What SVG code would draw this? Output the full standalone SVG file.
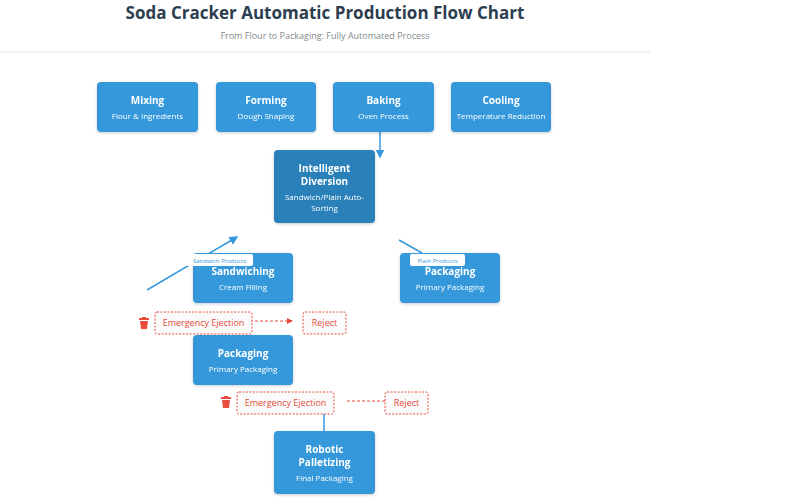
<svg xmlns="http://www.w3.org/2000/svg" width="800" height="500" viewBox="0 0 800 500">
<defs>
<style>
.n rect{fill:#3498db;rx:4}
.d rect{fill:#2980b9}
.t{font-family:"Open Sans","Liberation Sans",sans-serif;fill:#fff;text-anchor:middle}
.h{font-size:10px;font-weight:bold}
.s{font-size:8px}
.c{stroke:#3498db;stroke-width:1.5;fill:none}
.r{stroke:#e74c3c;stroke-width:1;stroke-dasharray:3,2;fill:none}
.eb{fill:#fafafa;stroke:#e74c3c;stroke-dasharray:2,1.5}
.et{font-family:"Open Sans","Liberation Sans",sans-serif;font-size:9px;fill:#e74c3c;text-anchor:middle}
.lb{fill:#fff}
.lt{font-family:"Open Sans","Liberation Sans",sans-serif;font-size:6px;fill:#3498db;text-anchor:middle}
</style>
<marker id="a" markerWidth="6" markerHeight="6" refX="5" refY="3" orient="auto"><path d="M0,0L6,3L0,6z" fill="#3498db"/></marker>
<marker id="ar" markerWidth="6" markerHeight="6" refX="5" refY="3" orient="auto"><path d="M0,0L6,3L0,6z" fill="#e74c3c"/></marker>
<filter id="sh"><feDropShadow dx="0" dy="1" stdDeviation="1.5" flood-opacity="0.2"/></filter>
</defs>
<rect width="800" height="500" fill="#fff"/>
<text x="325" y="19" font-family="'Open Sans','Liberation Sans',sans-serif" font-size="17" font-weight="bold" fill="#2c3e50" text-anchor="middle">Soda Cracker Automatic Production Flow Chart</text>
<text x="325" y="39" font-family="'Open Sans','Liberation Sans',sans-serif" font-size="9" fill="#7f8c8d" text-anchor="middle">From Flour to Packaging: Fully Automated Process</text>
<line x1="0" y1="52" x2="650" y2="52" stroke="#eee" stroke-width="1.5"/>
<g id="connectors">
<line class="c" x1="380" y1="132" x2="380" y2="157" marker-end="url(#a)"/>
<line class="c" x1="147" y1="290" x2="237" y2="237" marker-end="url(#a)"/>
<line class="c" x1="399" y1="240" x2="422" y2="253"/>
<line class="c" x1="324" y1="413" x2="324" y2="431"/>
<line class="r" x1="240" y1="321" x2="292" y2="321" marker-end="url(#ar)"/>
<line class="r" x1="347" y1="401" x2="393" y2="401" marker-end="url(#ar)"/>
</g>
<g id="mixing" class="n" filter="url(#sh)"><rect x="97" y="82" width="101" height="50" rx="4"/><text class="t h" x="147.5" y="104">Mixing</text><text class="t s" x="147.5" y="119">Flour &amp; Ingredients</text></g>
<g id="forming" class="n" filter="url(#sh)"><rect x="216" y="82" width="100" height="50" rx="4"/><text class="t h" x="266" y="104">Forming</text><text class="t s" x="266" y="119">Dough Shaping</text></g>
<g id="baking" class="n" filter="url(#sh)"><rect x="333" y="82" width="101" height="50" rx="4"/><text class="t h" x="383.5" y="104">Baking</text><text class="t s" x="383.5" y="119">Oven Process</text></g>
<g id="cooling" class="n" filter="url(#sh)"><rect x="451" y="82" width="100" height="50" rx="4"/><text class="t h" x="501" y="104">Cooling</text><text class="t s" x="501" y="119">Temperature Reduction</text></g>
<g id="diversion" class="n d" filter="url(#sh)"><rect x="274" y="150" width="101" height="73" rx="4"/><text class="t h" x="324.5" y="172">Intelligent</text><text class="t h" x="324.5" y="185">Diversion</text><text class="t s" x="324.5" y="200">Sandwich/Plain Auto-</text><text class="t s" x="324.5" y="211">Sorting</text></g>
<g id="sandwiching" class="n" filter="url(#sh)"><rect x="193" y="253" width="100" height="50" rx="4"/><text class="t h" x="243" y="275">Sandwiching</text><text class="t s" x="243" y="290">Cream Filling</text></g>
<g id="packaging-plain" class="n" filter="url(#sh)"><rect x="400" y="253" width="100" height="50" rx="4"/><text class="t h" x="450" y="275">Packaging</text><text class="t s" x="450" y="290">Primary Packaging</text></g>
<g id="packaging-sandwich" class="n" filter="url(#sh)"><rect x="193" y="335" width="100" height="50" rx="4"/><text class="t h" x="243" y="357">Packaging</text><text class="t s" x="243" y="372">Primary Packaging</text></g>
<g id="palletizing" class="n" filter="url(#sh)"><rect x="274" y="431" width="101" height="63" rx="4"/><text class="t h" x="324.5" y="453">Robotic</text><text class="t h" x="324.5" y="466">Palletizing</text><text class="t s" x="324.5" y="481">Final Packaging</text></g>
<g id="label-sandwich"><rect class="lb" x="186" y="254" width="67" height="12" rx="2"/><text class="lt" x="219.5" y="262.5">Sandwich Products</text></g>
<g id="label-plain"><rect class="lb" x="410" y="254" width="55" height="12" rx="2"/><text class="lt" x="437.5" y="262.5">Plain Products</text></g>
<g id="eject1"><rect class="eb" x="155" y="312" width="97" height="22" rx="2"/><text class="et" x="203.5" y="326">Emergency Ejection</text></g>
<g id="reject1"><rect class="eb" x="303" y="312" width="43" height="22" rx="2"/><text class="et" x="324.5" y="326">Reject</text></g>
<g id="eject2"><rect class="eb" x="237" y="392" width="97" height="22" rx="2"/><text class="et" x="285.5" y="406">Emergency Ejection</text></g>
<g id="reject2"><rect class="eb" x="385" y="392" width="43" height="22" rx="2"/><text class="et" x="406.5" y="406">Reject</text></g>
<g id="trash1" fill="#e74c3c"><rect x="139" y="318" width="10" height="2"/><rect x="142" y="317" width="4" height="1.5"/><path d="M140,321h8l-1,8h-6z"/></g>
<g id="trash2" fill="#e74c3c"><rect x="221" y="397" width="10" height="2"/><rect x="224" y="396" width="4" height="1.5"/><path d="M222,400h8l-1,8h-6z"/></g>
</svg>
